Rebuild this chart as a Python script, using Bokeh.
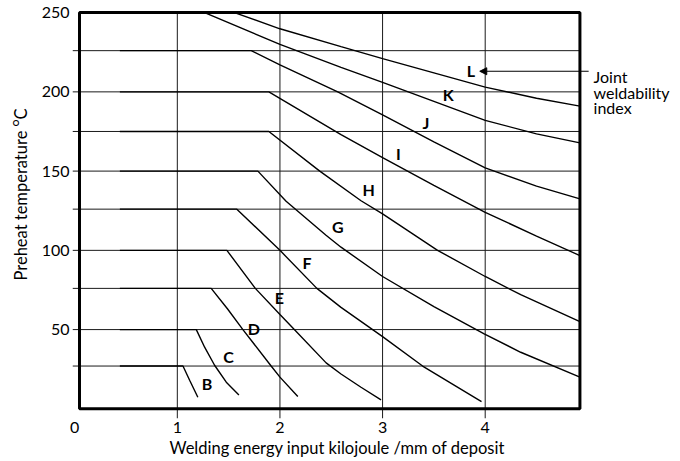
from bokeh.plotting import figure
from bokeh.models import Range1d, FixedTicker, Title, Arrow, NormalHead, ColumnDataSource
from bokeh.core.properties import value
from bokeh.embed import file_html
from bokeh.resources import INLINE

# ---------------- data ----------------
x_ticks = [0, 1, 2, 3, 4]
y_ticks = [27, 50, 76, 100, 126, 150, 175, 200, 226, 250]
y_tick_text = {27: "", 50: "50", 76: "", 100: "100", 126: "", 150: "150",
               175: "", 200: "200", 226: "", 250: "250"}

B_x = [0.44, 1.055, 1.12, 1.20]
B_y = [27, 27, 18, 7.3]
C_x = [0.44, 1.185, 1.266, 1.363, 1.477, 1.60]
C_y = [50, 50, 38.9, 27.5, 16.8, 8.8]
D_x = [0.44, 1.33, 1.49, 1.639, 1.914, 2.0, 2.174]
D_y = [76, 76, 63, 50, 27, 20, 7.8]
E_x = [0.44, 1.483, 1.76, 2.0, 2.14, 2.45, 2.595, 2.79, 2.985]
E_y = [100, 100, 76, 59.5, 50, 29, 22, 13.6, 5.7]
F_x = [0.44, 1.58, 2.0, 2.36, 2.595, 3.0, 3.39, 3.964]
F_y = [126, 126, 100, 76, 64, 45.6, 27, 4.6]
G_x = [0.44, 1.785, 2.06, 2.449, 2.595, 3.0, 3.5, 3.99, 4.346, 4.923]
G_y = [150, 150, 131, 109.5, 102, 83.5, 64.5, 47.3, 35.7, 20]
H_x = [0.44, 1.892, 2.388, 2.79, 3.0, 3.536, 4.0, 4.346, 4.923]
H_y = [175, 175, 150, 131.3, 123, 100, 83.5, 72, 55]
I_x = [0.44, 1.892, 2.595, 3.0, 3.5, 4.0, 4.5, 4.923]
I_y = [200, 200, 173, 158.5, 141, 124, 109, 96.7]
J_x = [0.44, 1.72, 2.0, 2.563, 3.0, 3.5, 4.0, 4.5, 4.923]
J_y = [226, 226, 217, 200, 185.5, 168.5, 152, 140.5, 132.5]
K_x = [1.266, 2.0, 2.595, 3.0, 3.5, 4.0, 4.5, 4.923]
K_y = [250, 230, 215.5, 206, 194, 182, 173.5, 167.8]
L_x = [1.557, 2.0, 2.595, 3.0, 3.5, 4.0, 4.5, 4.923]
L_y = [250, 239.8, 228.5, 221, 212, 203, 196, 191]

index_names = ["B", "C", "D", "E", "F", "G", "H", "I", "J", "K", "L"]
index_x = [1.289, 1.499, 1.746, 1.995, 2.265, 2.563, 2.865, 3.153, 3.422, 3.639, 3.86]
index_y = [15.8, 33, 50.9, 70.4, 92.5, 115, 138.2, 160.9, 180.8, 198.1, 213.4]

note_lines = ["Joint", "weldability", "index"]
note_y = [210, 199.7, 190.3]
arrow_y = 213

curves = [(B_x, B_y), (C_x, C_y), (D_x, D_y), (E_x, E_y), (F_x, F_y), (G_x, G_y),
          (H_x, H_y), (I_x, I_y), (J_x, J_y), (K_x, K_y), (L_x, L_y)]

# ---------------- layout constants ----------------
FONT = "Lato"
X_LO, X_HI = -0.0214, 5.903      # frame spans canvas x 71..680
Y_LO, Y_HI = -6.1, 252.6         # frame spans canvas y 8..418
BOX_L, BOX_R, BOX_B, BOX_T = 0.047, 4.923, 0, 250

p = figure(width=680, height=461, x_range=Range1d(X_LO, X_HI), y_range=Range1d(Y_LO, Y_HI),
           output_backend="svg", toolbar_location=None, title=None,
           min_border_left=71, min_border_right=0, min_border_top=8, min_border_bottom=43)
p.background_fill_color = "white"
p.border_fill_color = "white"
p.outline_line_color = None
p.xgrid.visible = False
p.ygrid.visible = False

p.xaxis.ticker = FixedTicker(ticks=x_ticks)
p.yaxis.ticker = FixedTicker(ticks=y_ticks)
p.yaxis.major_label_overrides = y_tick_text
for ax in (p.xaxis, p.yaxis):
    ax.axis_line_color = None
    ax.major_tick_line_color = None
    ax.minor_tick_line_color = None
    ax.major_tick_out = 0
    ax.major_tick_in = 0
    ax.major_label_standoff = 3
    ax.major_label_text_font = FONT
    ax.major_label_text_font_size = "16px"
    ax.major_label_text_color = "black"

# grid lines (extending past the box as tick marks)
h_lines = y_ticks[:-1]
p.segment(x0=[X_LO] * len(h_lines), y0=h_lines, x1=[BOX_R] * len(h_lines), y1=h_lines,
          line_color="#1a1a1a", line_width=1)
v_lines = x_ticks[1:]
p.segment(x0=v_lines, y0=[Y_LO] * len(v_lines), x1=v_lines, y1=[BOX_T] * len(v_lines),
          line_color="#1a1a1a", line_width=1)

for cx, cy in curves:
    p.line(cx, cy, line_color="black", line_width=1.4)

p.quad(left=[BOX_L], right=[BOX_R], bottom=[BOX_B], top=[BOX_T], fill_color=None,
       line_color="black", line_width=3)

src = ColumnDataSource(dict(x=index_x, y=index_y, t=index_names))
p.text(x="x", y="y", text="t", source=src, text_font=value(FONT), text_font_style="bold",
       text_font_size="16px", text_align="center", text_baseline="middle", text_color="black")

# annotation arrow and text
p.add_layout(Arrow(end=NormalHead(size=7, fill_color="black", line_color="black", line_width=1),
                   x_start=5.008, y_start=arrow_y, x_end=3.947, y_end=arrow_y,
                   line_color="black", line_width=1))
p.text(x=[5.056] * len(note_lines), y=note_y, text=note_lines, text_font=value(FONT),
       text_font_size="16px", text_align="left", text_baseline="alphabetic", text_color="black")

# axis titles
p.add_layout(Title(text="Preheat temperature \u1d3cC", align="left", offset=138, standoff=16,
                   text_font=FONT, text_font_size="16.5px", text_font_style="normal",
                   text_color="black"), "left")
p.add_layout(Title(text="Welding energy input kilojoule /mm of deposit", align="left",
                   offset=97, standoff=0, text_font=FONT, text_font_size="16.5px",
                   text_font_style="normal", text_color="black"), "below")

open("out.html", "w").write(file_html(p, INLINE))
